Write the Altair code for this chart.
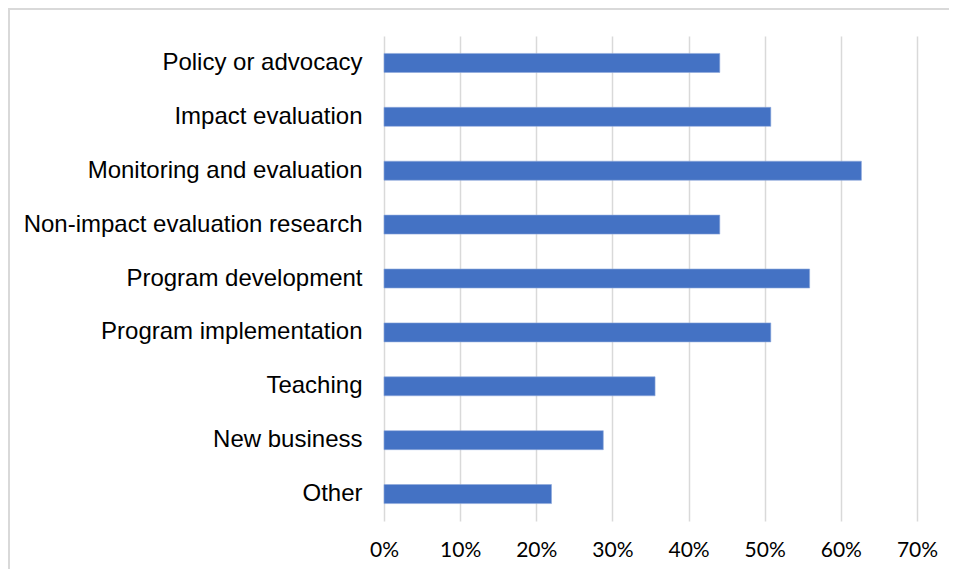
import altair as alt
import pandas as pd

categories = [
    "Policy or advocacy",
    "Impact evaluation",
    "Monitoring and evaluation",
    "Non-impact evaluation research",
    "Program development",
    "Program implementation",
    "Teaching",
    "New business",
    "Other",
]
values = [0.441, 0.508, 0.627, 0.441, 0.559, 0.508, 0.356, 0.288, 0.220]
x_ticks = [0, 0.1, 0.2, 0.3, 0.4, 0.5, 0.6, 0.7]

df = pd.DataFrame({"category": categories, "value": values})

W, H = 533, 485
PAD = {"left": 376, "top": 28, "right": 32, "bottom": 48}

bars = alt.Chart(df).mark_bar(color="#4472C4", stroke="#8FAADC", strokeWidth=0.6).encode(
    y=alt.Y(
        "category:N",
        sort=categories,
        scale=alt.Scale(paddingInner=0.647, paddingOuter=0.3235),
        axis=alt.Axis(
            title=None,
            ticks=False,
            domain=False,
            grid=False,
            labelFont="Liberation Sans",
            labelFontSize=24,
            labelColor="#000000",
            labelPadding=22,
            labelLimit=400,
        ),
    ),
    x=alt.X(
        "value:Q",
        scale=alt.Scale(domain=[0, 0.7], nice=False),
        axis=alt.Axis(
            title=None,
            values=x_ticks,
            format=".0%",
            ticks=False,
            domain=False,
            grid=True,
            gridColor="#D9D9D9",
            gridWidth=1.5,
            labelFont="Lato",
            labelFontSize=21,
            labelColor="#000000",
            labelPadding=18,
            labelFlush=False,
            labelOverlap=False,
        ),
    ),
)

frame_top = alt.Chart(df).mark_rule(color="#D9D9D9", strokeWidth=2).encode(
    x=alt.value(-PAD["left"]),
    x2=alt.value(W + PAD["right"]),
    y=alt.value(-PAD["top"] + 1),
)
frame_left = alt.Chart(df).mark_rule(color="#D9D9D9", strokeWidth=2).encode(
    x=alt.value(-PAD["left"] + 1),
    y=alt.value(-PAD["top"]),
    y2=alt.value(H + PAD["bottom"]),
)

chart = (
    alt.layer(bars, frame_top, frame_left)
    .properties(
        width=W,
        height=H,
        padding=PAD,
        autosize=alt.AutoSizeParams(type="none"),
        view=alt.ViewBackground(strokeWidth=0, stroke="transparent"),
    )
    .configure_view(strokeWidth=0, stroke="transparent")
    .configure(background="white")
)

chart.save("out.html", embed_options={"renderer": "svg", "actions": False})
